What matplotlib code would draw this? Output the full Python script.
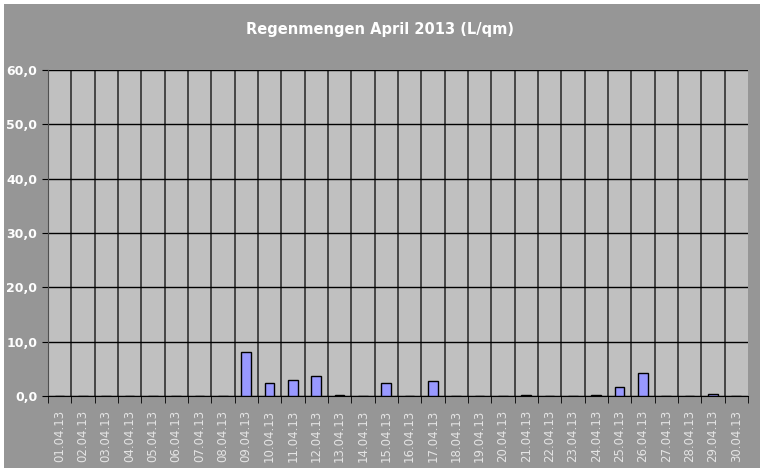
import numpy as np
import matplotlib.pyplot as plt
from matplotlib.ticker import FixedLocator
from matplotlib.patches import Rectangle

tage = ["%02d.04.13" % d for d in range(1, 31)]
regen = [0, 0, 0, 0, 0, 0, 0, 0, 8.0, 2.4, 2.9, 3.6, 0.2, 0, 2.3,
         0, 2.7, 0, 0, 0, 0.2, 0, 0, 0.2, 1.6, 4.2, 0, 0, 0.4, 0]
y_ticks = [0, 10, 20, 30, 40, 50, 60]

fig = plt.figure(figsize=(7.6, 4.68), dpi=100, facecolor="#969696")
ax = fig.add_axes([0.063, 0.154, 0.921, 0.696], facecolor="#c0c0c0")

# weisser Rand oben und links
fig.patches.append(Rectangle((0, 0.991), 1, 0.009, transform=fig.transFigure,
                             facecolor="white", edgecolor="none"))
fig.patches.append(Rectangle((0, 0), 0.005, 1, transform=fig.transFigure,
                             facecolor="white", edgecolor="none"))

x = np.arange(len(tage))
ax.bar(x, regen, width=0.42, color="#9999ff", edgecolor="black", linewidth=1, zorder=3)

ax.set_xlim(-0.5, len(tage) - 0.5)
ax.set_ylim(0, 60)
ax.set_yticks(y_ticks)
ax.set_yticklabels([("%.1f" % v).replace(".", ",") for v in y_ticks])
ax.yaxis.grid(True, color="black", linewidth=1, zorder=1)

# senkrechte Trennlinien zwischen den Tagen
for b in np.arange(0.5, len(tage) - 0.5, 1):
    ax.axvline(b, color="#303030", linewidth=1.2, zorder=1)

ax.set_xticks(x)
ax.set_xticklabels(tage, rotation=90, color="#e4e4e4", fontsize=8.5)
ax.xaxis.set_minor_locator(FixedLocator(np.arange(-0.5, len(tage), 1)))
ax.tick_params(axis="x", which="major", length=0, pad=10)
ax.tick_params(axis="x", which="minor", length=5, color="black")
ax.tick_params(axis="y", labelcolor="white", labelsize=9, length=4, color="black")
for lbl in ax.get_yticklabels():
    lbl.set_fontweight("bold")

for s in ["top", "right"]:
    ax.spines[s].set_visible(False)
ax.spines["left"].set_color("#505050")
ax.spines["bottom"].set_color("black")

fig.text(0.5, 0.938, "Regenmengen April 2013 (L/qm)", ha="center", va="center",
         color="white", fontsize=10.5, fontweight="bold")

fig.savefig("out.png", dpi=100, facecolor=fig.get_facecolor())
